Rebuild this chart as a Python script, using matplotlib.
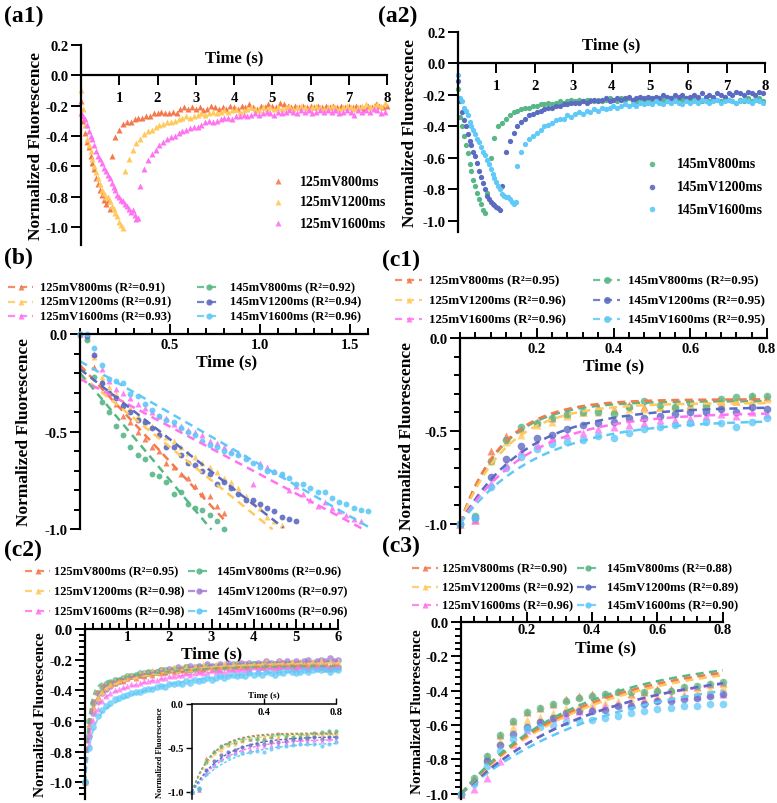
import numpy as np
import matplotlib
matplotlib.use("Agg")
import matplotlib.pyplot as plt
from matplotlib.lines import Line2D
from matplotlib.ticker import MultipleLocator, FixedLocator, FixedFormatter

plt.rcParams["font.family"] = ["Liberation Serif", "DejaVu Serif"]
plt.rcParams["font.weight"] = "bold"
plt.rcParams["axes.unicode_minus"] = False
plt.rcParams["axes.linewidth"] = 1.6

# ---------------- series identity ----------------
SERIES = ["125mV800ms", "125mV1200ms", "125mV1600ms", "145mV800ms", "145mV1200ms", "145mV1600ms"]
COLORS = ["#F47A4D", "#FFC95C", "#FF73F2", "#58B786", "#5C6BC2", "#5FC9F8"]
COLORS_C2 = ["#F47A4D", "#FFC95C", "#FF73F2", "#58B786", "#A67DD0", "#5FC9F8"]
MARKERS = ["^", "^", "^", "o", "o", "o"]

# ---------------- (a1)/(a2) raw traces ----------------
FALL_STEP = 0.05
RISE_STEP = 0.1
a_125_800_fall = [-0.17, -0.30, -0.38, -0.44, -0.47, -0.53, -0.58, -0.62, -0.68, -0.72, -0.76, -0.79, -0.82, -0.85, -0.83, -0.88]
a_125_800_rise_t0 = 0.8
a_125_800_rise = [-0.53, -0.41, -0.36, -0.32, -0.31, -0.31, -0.29, -0.28, -0.28, -0.27, -0.27, -0.25, -0.25, -0.24, -0.25,
                  -0.25, -0.24, -0.25, -0.22, -0.21, -0.22, -0.21, -0.22, -0.21, -0.23, -0.22, -0.20, -0.21, -0.22, -0.21,
                  -0.22, -0.20, -0.21, -0.22, -0.20, -0.21, -0.19, -0.21, -0.22, -0.20, -0.21, -0.19, -0.20, -0.21, -0.18,
                  -0.19, -0.20, -0.21, -0.20, -0.21, -0.20, -0.21, -0.20, -0.21, -0.20, -0.21, -0.20, -0.21, -0.20, -0.21,
                  -0.20, -0.21, -0.20, -0.21, -0.20, -0.21, -0.22, -0.20, -0.21, -0.19, -0.20, -0.21, -0.20]
a_125_1200_fall = [-0.10, -0.22, -0.33, -0.42, -0.46, -0.50, -0.55, -0.60, -0.64, -0.68, -0.72, -0.76, -0.78, -0.80, -0.80,
                   -0.83, -0.86, -0.88, -0.91, -0.93, -0.97, -0.99, -1.01]
a_125_1200_rise_t0 = 1.15
a_125_1200_rise = [-0.63, -0.55, -0.49, -0.45, -0.42, -0.39, -0.37, -0.36, -0.34, -0.33, -0.32, -0.31, -0.31, -0.30, -0.29,
                   -0.28, -0.27, -0.28, -0.27, -0.26, -0.25, -0.26, -0.25, -0.24, -0.25, -0.24, -0.23, -0.24, -0.23, -0.22,
                   -0.24, -0.23, -0.22, -0.21, -0.22, -0.23, -0.21, -0.22, -0.21, -0.22, -0.21, -0.22, -0.21, -0.20, -0.22,
                   -0.21, -0.20, -0.21, -0.22, -0.21, -0.20, -0.21, -0.22, -0.21, -0.20, -0.21, -0.22, -0.21, -0.20, -0.21,
                   -0.22, -0.21, -0.20, -0.19, -0.21, -0.20, -0.19, -0.20, -0.18]
a_125_1600_fall = [-0.25, -0.27, -0.29, -0.33, -0.37, -0.40, -0.42, -0.46, -0.50, -0.53, -0.55, -0.58, -0.61, -0.63, -0.66,
                   -0.68, -0.71, -0.74, -0.76, -0.79, -0.80, -0.82, -0.83, -0.85, -0.86, -0.88, -0.90, -0.89, -0.92, -0.95, -0.94]
a_125_1600_rise_t0 = 1.55
a_125_1600_rise = [-0.73, -0.62, -0.56, -0.52, -0.49, -0.46, -0.44, -0.42, -0.41, -0.40, -0.38, -0.37, -0.36, -0.35, -0.34,
                   -0.34, -0.33, -0.31, -0.30, -0.31, -0.30, -0.29, -0.28, -0.28, -0.29, -0.27, -0.27, -0.26, -0.27, -0.26,
                   -0.25, -0.26, -0.25, -0.24, -0.25, -0.26, -0.24, -0.25, -0.24, -0.23, -0.24, -0.25, -0.23, -0.24, -0.23,
                   -0.25, -0.24, -0.23, -0.24, -0.23, -0.24, -0.23, -0.25, -0.24, -0.23, -0.24, -0.26, -0.23, -0.24, -0.23,
                   -0.24, -0.22, -0.23, -0.25, -0.24]
a_145_800_fall = [-0.16, -0.34, -0.40, -0.46, -0.52, -0.57, -0.64, -0.68, -0.74, -0.78, -0.82, -0.86, -0.89, -0.93, -0.95]
a_145_800_rise_t0 = 0.75
a_145_800_rise = [-0.82, -0.60, -0.47, -0.40, -0.38, -0.35, -0.33, -0.31, -0.30, -0.29, -0.28, -0.28, -0.27, -0.27, -0.26,
                  -0.26, -0.25, -0.26, -0.25, -0.24, -0.25, -0.24, -0.23, -0.24, -0.23, -0.24, -0.23, -0.23, -0.24, -0.23,
                  -0.24, -0.23, -0.22, -0.23, -0.24, -0.22, -0.23, -0.22, -0.23, -0.24, -0.22, -0.23, -0.22, -0.24, -0.23,
                  -0.22, -0.23, -0.24, -0.22, -0.23, -0.24, -0.23, -0.22, -0.24, -0.23, -0.22, -0.24, -0.23, -0.24, -0.22,
                  -0.23, -0.24, -0.22, -0.23, -0.24, -0.25, -0.23, -0.24, -0.22, -0.24, -0.23, -0.22, -0.24]
a_145_1200_fall = [-0.11, -0.24, -0.31, -0.36, -0.40, -0.45, -0.49, -0.52, -0.56, -0.59, -0.63, -0.68, -0.72, -0.76, -0.80,
                   -0.84, -0.86, -0.88, -0.89, -0.90, -0.91, -0.92, -0.93]
a_145_1200_rise_t0 = 1.15
a_145_1200_rise = [-0.78, -0.56, -0.49, -0.44, -0.40, -0.37, -0.35, -0.33, -0.32, -0.31, -0.30, -0.29, -0.28, -0.28, -0.27,
                   -0.27, -0.26, -0.26, -0.25, -0.25, -0.25, -0.24, -0.25, -0.24, -0.23, -0.24, -0.23, -0.22, -0.24, -0.23,
                   -0.22, -0.23, -0.22, -0.21, -0.23, -0.22, -0.21, -0.22, -0.21, -0.22, -0.21, -0.22, -0.20, -0.21, -0.22,
                   -0.20, -0.21, -0.20, -0.22, -0.21, -0.20, -0.21, -0.19, -0.21, -0.20, -0.21, -0.19, -0.20, -0.21, -0.19,
                   -0.20, -0.18, -0.19, -0.20, -0.18, -0.19, -0.20, -0.18, -0.19]
a_145_1600_fall = [-0.07, -0.22, -0.24, -0.28, -0.30, -0.33, -0.37, -0.40, -0.42, -0.45, -0.48, -0.50, -0.53, -0.56, -0.58,
                   -0.61, -0.64, -0.67, -0.70, -0.73, -0.75, -0.78, -0.80, -0.83, -0.84, -0.85, -0.85, -0.86, -0.88, -0.89, -0.88]
a_145_1600_rise_t0 = 1.55
a_145_1600_rise = [-0.65, -0.56, -0.51, -0.48, -0.46, -0.44, -0.42, -0.40, -0.39, -0.38, -0.36, -0.35, -0.35, -0.33, -0.34,
                   -0.32, -0.31, -0.32, -0.30, -0.31, -0.29, -0.30, -0.28, -0.29, -0.28, -0.27, -0.28, -0.27, -0.26, -0.27,
                   -0.26, -0.27, -0.25, -0.26, -0.25, -0.26, -0.24, -0.25, -0.26, -0.24, -0.25, -0.24, -0.25, -0.26, -0.24,
                   -0.25, -0.24, -0.25, -0.23, -0.24, -0.25, -0.24, -0.23, -0.25, -0.24, -0.23, -0.24, -0.25, -0.24, -0.23,
                   -0.24, -0.25, -0.23, -0.24, -0.25]

A_FALL = [a_125_800_fall, a_125_1200_fall, a_125_1600_fall, a_145_800_fall, a_145_1200_fall, a_145_1600_fall]
A_RISE = [a_125_800_rise, a_125_1200_rise, a_125_1600_rise, a_145_800_rise, a_145_1200_rise, a_145_1600_rise]
A_RISE_T0 = [a_125_800_rise_t0, a_125_1200_rise_t0, a_125_1600_rise_t0, a_145_800_rise_t0, a_145_1200_rise_t0, a_145_1600_rise_t0]

# ---------------- (b) decay phase, normalized ----------------
B_STEP = 0.04
b_125_800 = [0.0, -0.02, -0.17, -0.24, -0.30, -0.36, -0.42, -0.45, -0.50, -0.54, -0.58, -0.60, -0.66, -0.68, -0.72, -0.74,
             -0.78, -0.82, -0.83, -0.88, -0.92]
b_125_1200 = [0.0, -0.01, -0.12, -0.22, -0.27, -0.31, -0.35, -0.38, -0.42, -0.45, -0.47, -0.50, -0.53, -0.55, -0.58, -0.61,
              -0.63, -0.66, -0.68, -0.71, -0.74, -0.76, -0.79, -0.83, -0.86, -0.89, -0.94, -0.96, -0.98]
b_125_1600 = [0.0, -0.01, -0.10, -0.18, -0.24, -0.28, -0.30, -0.33, -0.36, -0.38, -0.40, -0.42, -0.43, -0.46, -0.47, -0.49,
              -0.50, -0.52, -0.55, -0.56, -0.58, -0.60, -0.61, -0.63, -0.77, -0.66, -0.68, -0.70, -0.72, -0.80, -0.78, -0.82,
              -0.85, -0.88, -0.86, -0.89, -0.91, -0.93, -0.95, -0.96]
b_145_800 = [0.0, -0.03, -0.22, -0.35, -0.40, -0.47, -0.52, -0.58, -0.62, -0.64, -0.72, -0.73, -0.76, -0.82, -0.81, -0.87,
             -0.89, -0.90, -0.93, -0.96, -1.0]
b_145_1200 = [0.0, -0.01, -0.11, -0.25, -0.30, -0.33, -0.37, -0.40, -0.44, -0.45, -0.48, -0.52, -0.58, -0.58, -0.62, -0.66,
              -0.67, -0.70, -0.72, -0.77, -0.76, -0.79, -0.82, -0.85, -0.85, -0.87, -0.89, -0.91, -0.94, -0.95, -0.96]
b_145_1600 = [0.0, 0.0, -0.07, -0.16, -0.23, -0.24, -0.25, -0.31, -0.32, -0.36, -0.39, -0.42, -0.44, -0.45, -0.48, -0.50,
              -0.52, -0.55, -0.57, -0.58, -0.60, -0.61, -0.62, -0.64, -0.66, -0.68, -0.70, -0.71, -0.72, -0.74, -0.77, -0.77,
              -0.79, -0.81, -0.81, -0.84, -0.86, -0.87, -0.89, -0.90, -0.91]
B_VALUES = [b_125_800, b_125_1200, b_125_1600, b_145_800, b_145_1200, b_145_1600]
B_R2 = [0.91, 0.91, 0.93, 0.92, 0.94, 0.96]
B_INTERCEPT = [-0.16, -0.21, -0.23, -0.20, -0.18, -0.14]
B_SLOPE = [-0.99, -0.74, -0.49, -1.10, -0.72, -0.53]
B_TEND = [0.80, 1.07, 1.57, 0.73, 1.13, 1.61]

# ---------------- (c1) recovery 0-0.8 s ----------------
C_STEP = 0.04
c1_125_800 = [-1.00, -0.98, -0.61, -0.53, -0.49, -0.45, -0.43, -0.41, -0.40, -0.37, -0.38, -0.36, -0.37, -0.37, -0.36, -0.36,
              -0.35, -0.34, -0.34, -0.31, -0.32]
c1_125_1200 = [-1.00, -0.97, -0.66, -0.56, -0.52, -0.47, -0.45, -0.42, -0.40, -0.40, -0.39, -0.38, -0.38, -0.37, -0.37, -0.36,
               -0.35, -0.35, -0.34, -0.34, -0.33]
c1_125_1600 = [-1.00, -0.98, -0.78, -0.68, -0.61, -0.57, -0.54, -0.52, -0.51, -0.49, -0.48, -0.47, -0.46, -0.44, -0.44, -0.43,
               -0.42, -0.41, -0.42, -0.40, -0.41]
c1_145_800 = [-1.00, -0.96, -0.66, -0.55, -0.48, -0.46, -0.43, -0.41, -0.40, -0.40, -0.41, -0.37, -0.34, -0.36, -0.37, -0.35,
              -0.36, -0.33, -0.32, -0.31, -0.31]
c1_145_1200 = [-1.00, -0.97, -0.75, -0.65, -0.58, -0.54, -0.52, -0.49, -0.47, -0.46, -0.45, -0.43, -0.43, -0.42, -0.41, -0.40,
               -0.40, -0.38, -0.40, -0.37, -0.38]
c1_145_1600 = [-1.00, -0.97, -0.80, -0.70, -0.64, -0.60, -0.57, -0.56, -0.55, -0.53, -0.54, -0.51, -0.49, -0.48, -0.47, -0.46,
               -0.45, -0.46, -0.48, -0.45, -0.43]
C1_VALUES = [c1_125_800, c1_125_1200, c1_125_1600, c1_145_800, c1_145_1200, c1_145_1600]
C1_R2 = [0.95, 0.96, 0.96, 0.95, 0.95, 0.95]
C1_PLATEAU = [-0.33, -0.35, -0.40, -0.34, -0.37, -0.44]
C1_TAU = [0.11, 0.12, 0.18, 0.11, 0.17, 0.20]

# ---------------- (c2) recovery 0-6 s ----------------
C2_STEP = 0.1
c2_125_800 = [-1.00, -0.62, -0.50, -0.44, -0.40, -0.38, -0.36, -0.35, -0.33, -0.34, -0.32,
              -0.31, -0.32, -0.30, -0.31, -0.29, -0.30, -0.28, -0.29, -0.28, -0.27,
              -0.28, -0.26, -0.27, -0.28, -0.26, -0.25, -0.27, -0.26, -0.25, -0.26,
              -0.25, -0.27, -0.24, -0.25, -0.26, -0.24, -0.25, -0.24, -0.26, -0.24,
              -0.23, -0.25, -0.24, -0.23, -0.25, -0.24, -0.22, -0.24, -0.23, -0.25,
              -0.24, -0.23, -0.22, -0.24, -0.23, -0.25, -0.22, -0.24, -0.23, -0.24]
c2_125_1200 = [-1.00, -0.66, -0.52, -0.45, -0.41, -0.38, -0.36, -0.34, -0.33, -0.32, -0.31,
               -0.30, -0.31, -0.29, -0.28, -0.29, -0.27, -0.28, -0.26, -0.27, -0.26,
               -0.25, -0.27, -0.25, -0.24, -0.26, -0.24, -0.25, -0.23, -0.24, -0.25,
               -0.23, -0.24, -0.22, -0.24, -0.23, -0.22, -0.24, -0.23, -0.22, -0.23,
               -0.22, -0.23, -0.21, -0.23, -0.22, -0.21, -0.23, -0.22, -0.21, -0.22,
               -0.21, -0.23, -0.22, -0.21, -0.22, -0.20, -0.22, -0.21, -0.22, -0.21]
c2_125_1600 = [-1.00, -0.75, -0.60, -0.52, -0.47, -0.44, -0.42, -0.40, -0.39, -0.38, -0.37,
               -0.36, -0.36, -0.35, -0.34, -0.34, -0.33, -0.33, -0.32, -0.32, -0.31,
               -0.31, -0.30, -0.30, -0.29, -0.30, -0.29, -0.28, -0.29, -0.28, -0.27,
               -0.28, -0.27, -0.28, -0.27, -0.26, -0.27, -0.26, -0.27, -0.26, -0.25,
               -0.26, -0.25, -0.26, -0.25, -0.26, -0.25, -0.24, -0.25, -0.26, -0.25,
               -0.24, -0.25, -0.26, -0.24, -0.25, -0.24, -0.26, -0.25, -0.24, -0.25]
c2_145_800 = [-1.00, -0.60, -0.48, -0.42, -0.38, -0.36, -0.35, -0.33, -0.34, -0.32, -0.31,
              -0.31, -0.30, -0.29, -0.30, -0.28, -0.29, -0.28, -0.27, -0.28, -0.27,
              -0.26, -0.27, -0.26, -0.25, -0.27, -0.26, -0.25, -0.26, -0.24, -0.25,
              -0.26, -0.24, -0.25, -0.24, -0.25, -0.23, -0.24, -0.25, -0.24, -0.23,
              -0.24, -0.25, -0.23, -0.24, -0.23, -0.25, -0.24, -0.23, -0.24, -0.25,
              -0.23, -0.24, -0.25, -0.23, -0.24, -0.25, -0.24, -0.26, -0.24, -0.25]
c2_145_1200 = [-1.00, -0.70, -0.55, -0.47, -0.42, -0.39, -0.37, -0.35, -0.34, -0.33, -0.32,
               -0.31, -0.31, -0.30, -0.29, -0.29, -0.28, -0.28, -0.27, -0.27, -0.26,
               -0.27, -0.25, -0.26, -0.25, -0.24, -0.25, -0.24, -0.25, -0.23, -0.24,
               -0.24, -0.23, -0.24, -0.22, -0.23, -0.24, -0.22, -0.23, -0.22, -0.23,
               -0.22, -0.23, -0.21, -0.22, -0.23, -0.21, -0.22, -0.21, -0.22, -0.21,
               -0.22, -0.21, -0.20, -0.22, -0.21, -0.20, -0.21, -0.19, -0.21, -0.20]
c2_145_1600 = [-1.00, -0.78, -0.64, -0.57, -0.53, -0.50, -0.48, -0.46, -0.45, -0.44, -0.43,
               -0.42, -0.41, -0.41, -0.40, -0.39, -0.39, -0.38, -0.37, -0.38, -0.36,
               -0.36, -0.35, -0.36, -0.34, -0.35, -0.33, -0.34, -0.33, -0.32, -0.33,
               -0.32, -0.31, -0.32, -0.31, -0.30, -0.31, -0.30, -0.31, -0.29, -0.30,
               -0.29, -0.30, -0.28, -0.29, -0.30, -0.28, -0.29, -0.27, -0.28, -0.29,
               -0.28, -0.27, -0.28, -0.27, -0.26, -0.27, -0.26, -0.28, -0.26, -0.27]
C2_VALUES = [c2_125_800, c2_125_1200, c2_125_1600, c2_145_800, c2_145_1200, c2_145_1600]
C2_R2 = [0.95, 0.98, 0.98, 0.96, 0.97, 0.96]
C2_PLATEAU = [-0.235, -0.215, -0.245, -0.24, -0.205, -0.265]
C2_FAST_AMP = [0.60, 0.55, 0.50, 0.62, 0.58, 0.40]
C2_TAU_FAST = [0.10, 0.11, 0.13, 0.09, 0.12, 0.14]
C2_TAU_SLOW = [1.5, 1.5, 1.6, 1.5, 1.6, 1.6]

# ---------------- (c3) recovery 0-0.8 s, second fit ----------------
c3_125_800 = [-1.00, -0.91, -0.78, -0.66, -0.575, -0.525, -0.50, -0.475, -0.45, -0.43, -0.42, -0.42, -0.40, -0.42, -0.41,
              -0.39, -0.39, -0.38, -0.38, -0.36, -0.355]
c3_125_1200 = [-1.00, -0.92, -0.80, -0.69, -0.61, -0.57, -0.55, -0.53, -0.50, -0.49, -0.48, -0.47, -0.46, -0.45, -0.44,
               -0.43, -0.43, -0.42, -0.41, -0.39, -0.38]
c3_125_1600 = [-1.00, -0.97, -0.905, -0.81, -0.71, -0.63, -0.58, -0.56, -0.54, -0.52, -0.50, -0.49, -0.48, -0.48, -0.46,
               -0.45, -0.44, -0.43, -0.43, -0.42, -0.42]
c3_145_800 = [-1.00, -0.91, -0.78, -0.66, -0.575, -0.525, -0.50, -0.475, -0.46, -0.44, -0.43, -0.42, -0.41, -0.41, -0.41,
              -0.40, -0.40, -0.38, -0.37, -0.36, -0.35]
c3_145_1200 = [-1.00, -0.93, -0.81, -0.715, -0.65, -0.61, -0.58, -0.56, -0.53, -0.52, -0.52, -0.51, -0.49, -0.49, -0.48,
               -0.46, -0.46, -0.45, -0.44, -0.43, -0.42]
c3_145_1600 = [-1.00, -0.94, -0.84, -0.75, -0.68, -0.62, -0.61, -0.60, -0.58, -0.57, -0.57, -0.56, -0.545, -0.53, -0.515,
               -0.505, -0.50, -0.49, -0.49, -0.48, -0.475]
C3_VALUES = [c3_125_800, c3_125_1200, c3_125_1600, c3_145_800, c3_145_1200, c3_145_1600]
C3_R2 = [0.90, 0.92, 0.96, 0.88, 0.89, 0.90]
C3_PLATEAU = [-0.21, -0.22, -0.26, -0.20, -0.25, -0.29]
C3_TAU = [0.36, 0.37, 0.40, 0.35, 0.41, 0.43]

# =====================================================================
W, H = 777, 804
fig = plt.figure(figsize=(W / 100, H / 100), dpi=100)


def px_axes(l, t, r, b):
    return fig.add_axes([l / W, 1 - b / H, (r - l) / W, (b - t) / H])


DASH = (0, (3.2, 2.2))
TICK_FS = 10.5


def base_style(ax, xlim, ylim, xticks, xlabels, yticks, ylabels, xminor=None, yminor=None,
               tick_fs=TICK_FS, xdir="out", maj_len=6, min_len=3.5, xpad=4):
    ax.set_xlim(*xlim)
    ax.set_ylim(*ylim)
    for s in ("top", "right"):
        ax.spines[s].set_visible(False)
    ax.spines["bottom"].set_position(("data", 0))
    ax.xaxis.set_major_locator(FixedLocator(xticks))
    ax.xaxis.set_major_formatter(FixedFormatter(xlabels))
    ax.yaxis.set_major_locator(FixedLocator(yticks))
    ax.yaxis.set_major_formatter(FixedFormatter(ylabels))
    if xminor:
        ax.xaxis.set_minor_locator(MultipleLocator(xminor))
    if yminor:
        ax.yaxis.set_minor_locator(MultipleLocator(yminor))
    ax.tick_params(axis="x", which="both", direction=xdir, width=1.4, labelsize=tick_fs, pad=xpad)
    ax.tick_params(axis="y", which="both", direction="out", width=1.4, labelsize=tick_fs, pad=2)
    ax.tick_params(which="major", length=maj_len)
    ax.tick_params(which="minor", length=min_len)
    for lab in ax.get_xticklabels() + ax.get_yticklabels():
        lab.set_fontweight("bold")
    ax.patch.set_alpha(0)


def fmt1(vals):
    return ["%.1f" % v for v in vals]


def key_entry(x0, x1, xtext, y, color, marker, label, fs, ms, dashed=True):
    """One legend row drawn in figure pixel coordinates."""
    yf = 1 - y / H
    if dashed:
        fig.add_artist(Line2D([x0 / W, x1 / W], [yf, yf], transform=fig.transFigure, color=color, ls=DASH, lw=1.6,
                              alpha=0.85))
    fig.add_artist(Line2D([(x0 + x1) / 2 / W], [yf], transform=fig.transFigure, color=color, ls="none",
                          marker=marker, ms=ms, mec="none", alpha=0.9))
    fig.text(xtext / W, yf, label, fontsize=fs, fontweight="bold", va="center", ha="left")


def key_block(rows_y, cols, colors, r2, fs, ms):
    # cols: [(handle_x0, handle_x1, text_x) for column 1 (125 mV), column 2 (145 mV)]
    for i in range(6):
        x0, x1, xt = cols[i // 3]
        key_entry(x0, x1, xt, rows_y[i % 3], colors[i], MARKERS[i],
                  "%s (R\u00b2=%.2f)" % (SERIES[i], r2[i]), fs, ms)


# ---------------- (a1) ----------------
ax = px_axes(81, 46, 387, 246)
yt = [0.2, 0.0, -0.2, -0.4, -0.6, -0.8, -1.0]
base_style(ax, (0, 8), (-1.12, 0.2), list(range(1, 9)), [str(i) for i in range(1, 9)], yt, fmt1(yt),
           xdir="out", maj_len=7, xpad=4)
for i in range(3):
    c, m = COLORS[i], MARKERS[i]
    fall = np.array(A_FALL[i]); rise = np.array(A_RISE[i])
    ax.plot(np.arange(len(fall)) * FALL_STEP, fall, ls="none", marker=m, ms=3.8, color=c, mec="none", clip_on=False)
    ax.plot(A_RISE_T0[i] + np.arange(len(rise)) * RISE_STEP, rise, ls="none", marker=m, ms=3.8, color=c, mec="none",
            clip_on=False)
ax.set_xlabel("Time (s)", fontsize=12, fontweight="bold")
ax.xaxis.set_label_coords(0.5, 0.98)
ax.set_ylabel("Normalized Fluorescence", fontsize=12.5, fontweight="bold", labelpad=1)
for k, y in enumerate([182, 203, 224]):
    key_entry(278, 278, 300, y, COLORS[k], MARKERS[k], SERIES[k], 9.9, 4, dashed=False)

# ---------------- (a2) ----------------
ax = px_axes(458, 33, 765, 233)
base_style(ax, (0, 8), (-1.07, 0.2), list(range(1, 9)), [str(i) for i in range(1, 9)], yt, fmt1(yt),
           xdir="out", maj_len=7, xpad=4)
for i in range(3, 6):
    c, m = COLORS[i], MARKERS[i]
    fall = np.array(A_FALL[i]); rise = np.array(A_RISE[i])
    ax.plot(np.arange(len(fall)) * FALL_STEP, fall, ls="none", marker=m, ms=3.8, color=c, mec="none", clip_on=False)
    ax.plot(A_RISE_T0[i] + np.arange(len(rise)) * RISE_STEP, rise, ls="none", marker=m, ms=3.8, color=c, mec="none",
            clip_on=False)
ax.set_xlabel("Time (s)", fontsize=12, fontweight="bold")
ax.xaxis.set_label_coords(0.5, 0.98)
ax.set_ylabel("Normalized Fluorescence", fontsize=12.5, fontweight="bold", labelpad=3)
for k, y in enumerate([165, 188, 210]):
    key_entry(652, 652, 677, y, COLORS[k + 3], MARKERS[k + 3], SERIES[k + 3], 9.9, 4, dashed=False)

# ---------------- (b) ----------------
ax = px_axes(80, 335, 368, 530)
base_style(ax, (0, 1.6), (-1.0, 0.0), [0.5, 1.0, 1.5], ["0.5", "1.0", "1.5"], [0.0, -0.5, -1.0], ["0.0", "-0.5", "-1.0"],
           xminor=0.1, yminor=0.1, xdir="in", maj_len=7, min_len=4, xpad=3)
for i in range(6):
    v = np.array(B_VALUES[i])
    ax.plot(np.arange(len(v)) * B_STEP, v, ls="none", marker=MARKERS[i], ms=4.2, color=COLORS[i], mec="none",
            alpha=0.9, clip_on=False)
for i in range(6):
    tt = np.array([0.0, B_TEND[i]])
    ax.plot(tt, B_INTERCEPT[i] + B_SLOPE[i] * tt, ls=DASH, lw=1.8, color=COLORS[i], clip_on=False)
ax.set_xlabel("Time (s)", fontsize=12.5, fontweight="bold")
ax.xaxis.set_label_coords(0.51, 0.9)
ax.set_ylabel("Normalized Fluorescence", fontsize=12.5, fontweight="bold", labelpad=9)
key_block([288, 302.5, 317], [(8, 33, 40), (197, 220, 230)], COLORS, B_R2, 9.0, 4.5)


def exp_fit(t, plateau, tau):
    return plateau - (plateau + 1.0) * np.exp(-t / tau)


# ---------------- (c1) ----------------
ax = px_axes(460, 339, 767, 534)
base_style(ax, (0, 0.8), (-1.05, 0.0), [0.2, 0.4, 0.6, 0.8], ["0.2", "0.4", "0.6", "0.8"], [0.0, -0.5, -1.0],
           ["0.0", "-0.5", "-1.0"], xminor=0.04, yminor=0.1, xdir="in", maj_len=7, min_len=4, xpad=3)
tf = np.linspace(0, 0.8, 200)
for i in range(6):
    v = np.array(C1_VALUES[i])
    ax.plot(np.arange(len(v)) * C_STEP, v, ls="none", marker=MARKERS[i], ms=5.5, color=COLORS[i], mec="none",
            alpha=0.8, clip_on=False)
for i in [3, 0, 1, 4, 2, 5]:
    ax.plot(tf, exp_fit(tf, C1_PLATEAU[i], C1_TAU[i]), ls=DASH, lw=1.8, color=COLORS[i])
ax.set_xlabel("Time (s)", fontsize=12.5, fontweight="bold")
ax.xaxis.set_label_coords(0.5, 0.9)
ax.set_ylabel("Normalized Fluorescence", fontsize=12.5, fontweight="bold", labelpad=7)
key_block([281, 301, 320], [(395, 422, 429), (593, 620, 628)], COLORS, C1_R2, 9.4, 5)


def exp2_fit(t, plateau, amp_fast, tau_fast, tau_slow):
    amp_slow = plateau + 1.0 - amp_fast
    return plateau - amp_fast * np.exp(-t / tau_fast) - amp_slow * np.exp(-t / tau_slow)


# ---------------- (c2) ----------------
ax = px_axes(85, 630, 338, 800)
yt2 = [0.0, -0.2, -0.4, -0.6, -0.8, -1.0]
base_style(ax, (0, 6), (-1.11, 0.0), [1, 2, 3, 4, 5, 6], ["1", "2", "3", "4", "5", "6"], yt2, fmt1(yt2),
           xminor=0.2, yminor=0.04, xdir="in", maj_len=7, min_len=4, xpad=1)
for i in [4, 3, 0, 1, 2, 5]:
    v = np.array(C2_VALUES[i])
    ax.plot(np.arange(len(v)) * C2_STEP, v, ls="none", marker=MARKERS[i], ms=4.8, color=COLORS_C2[i], mec="none",
            alpha=0.75, clip_on=False)
tf2 = np.linspace(0, 6, 400)
for i in range(6):
    ax.plot(tf2, exp2_fit(tf2, C2_PLATEAU[i], C2_FAST_AMP[i], C2_TAU_FAST[i], C2_TAU_SLOW[i]), ls=DASH, lw=1.3,
            color=COLORS_C2[i], alpha=0.8)
ax.set_xlabel("Time (s)", fontsize=12.5, fontweight="bold")
ax.xaxis.set_label_coords(0.5, 0.905)
ax.set_ylabel("Normalized Fluorescence", fontsize=11, fontweight="bold", labelpad=2)
key_block([572, 592, 612], [(25, 50, 54), (188, 209, 217)], COLORS_C2, C2_R2, 8.9, 4.5)

# inset of (c2): c1 data
axi = px_axes(192, 705, 336, 800)
base_style(axi, (0, 0.8), (-1.08, 0.0), [0.4, 0.8], ["0.4", "0.8"], [0.0, -0.5, -1.0], ["0.0", "-0.5", "-1.0"],
           xdir="in", maj_len=4, min_len=2, xpad=2, tick_fs=7.5)
axi.tick_params(width=1.0)
for s in ("left", "bottom"):
    axi.spines[s].set_linewidth(1.1)
for i in range(6):
    v = np.array(C1_VALUES[i])
    axi.plot(np.arange(len(v)) * C_STEP, v, ls="none", marker=MARKERS[i], ms=3.0, color=COLORS[i], mec="none",
             alpha=0.8, clip_on=False)
for i in range(6):
    axi.plot(tf, exp_fit(tf, C1_PLATEAU[i], C1_TAU[i]), ls=(0, (2, 1.5)), lw=1.0, color=COLORS[i])
axi.set_xlabel("Time (s)", fontsize=6.5, fontweight="bold")
axi.xaxis.set_label_coords(0.5, 1.15)
axi.set_ylabel("Normalized Fluorescence", fontsize=6, fontweight="bold", labelpad=2)

# ---------------- (c3) ----------------
ax = px_axes(461, 623, 723, 800)
base_style(ax, (0, 0.8), (-1.03, 0.0), [0.2, 0.4, 0.6, 0.8], ["0.2", "0.4", "0.6", "0.8"], yt2, fmt1(yt2),
           xminor=0.04, yminor=0.04, xdir="in", maj_len=7, min_len=4, xpad=1)
for i in range(6):
    v = np.array(C3_VALUES[i])
    ax.plot(np.arange(len(v)) * C_STEP, v, ls="none", marker=MARKERS[i], ms=5.5, color=COLORS[i], mec="none",
            alpha=0.75, clip_on=False)
for i in [5, 2, 4, 1, 0, 3]:
    ax.plot(tf, exp_fit(tf, C3_PLATEAU[i], C3_TAU[i]), ls=DASH, lw=1.8, color=COLORS[i])
ax.set_xlabel("Time (s)", fontsize=12.5, fontweight="bold")
ax.xaxis.set_label_coords(0.55, 0.9)
ax.set_ylabel("Normalized Fluorescence", fontsize=11, fontweight="bold", labelpad=1)
key_block([569, 588, 606], [(412, 438, 442), (577, 598, 607)], COLORS, C3_R2, 9.0, 4.5)

# ---------------- panel labels ----------------
for txt, x, y in [("(a1)", 4, 16), ("(a2)", 378, 16), ("(b)", 4, 258), ("(c1)", 382, 260), ("(c2)", 4, 550),
                  ("(c3)", 382, 546)]:
    fig.text(x / W, 1 - y / H, txt, fontsize=17, fontweight="bold", va="center", ha="left")

fig.savefig("out.png", dpi=100)
